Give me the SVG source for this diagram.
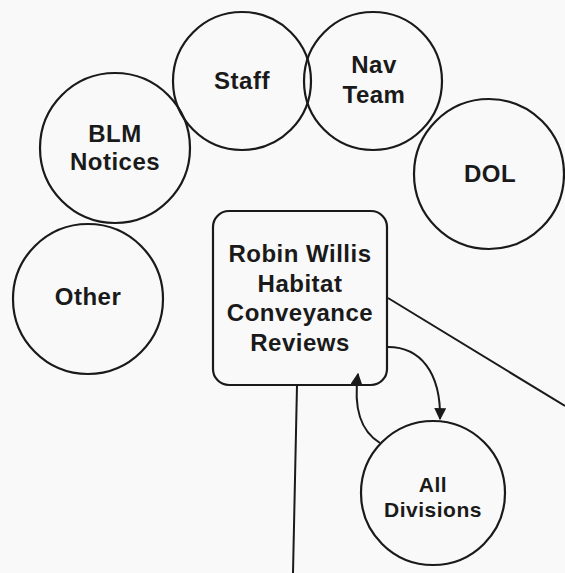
<svg xmlns="http://www.w3.org/2000/svg" width="565" height="573" viewBox="0 0 565 573">
<defs>
<style>
.n{fill:none;stroke:#1a1a1a;stroke-width:2.2}
.t{font-family:"Liberation Sans",Arial,sans-serif;font-weight:bold;font-size:24px;letter-spacing:0.5px;fill:#1a1a1a;text-anchor:middle}
.s{font-size:21px}
.c{fill:none;stroke:#1a1a1a;stroke-width:2}
</style>
<marker id="ah" viewBox="0 0 10 10" refX="9" refY="5" markerWidth="12" markerHeight="12" markerUnits="userSpaceOnUse" orient="auto">
<path d="M0,0 L10,5 L0,10 z" fill="#1a1a1a"/>
</marker>
</defs>
<rect width="565" height="573" fill="#f9f9f9"/>
<g id="connectors">
<line class="c" x1="388" y1="298" x2="565" y2="406"/>
<path class="c" d="M388,347 C420,347 441,372 440,419" marker-end="url(#ah)"/>
<path class="c" d="M380,443 C362,432 353,410 358,374" marker-end="url(#ah)"/>
<line class="c" x1="297" y1="385" x2="293" y2="573"/>
</g>
<g id="staff"><circle class="n" cx="242" cy="81" r="69"/><text class="t" x="242" y="89">Staff</text></g>
<g id="navteam"><circle class="n" cx="373" cy="81" r="69"/><text class="t" x="374" y="73">Nav</text><text class="t" x="374" y="103">Team</text></g>
<g id="blm"><circle class="n" cx="115" cy="148" r="75"/><text class="t" x="115" y="142">BLM</text><text class="t" x="115" y="170">Notices</text></g>
<g id="dol"><circle class="n" cx="489" cy="174" r="75"/><text class="t" x="490" y="182">DOL</text></g>
<g id="other"><circle class="n" cx="88" cy="299" r="75"/><text class="t" x="88" y="305">Other</text></g>
<g id="robin"><rect class="n" x="213" y="211" width="174" height="174" rx="16"/>
<text class="t" x="300" y="262">Robin Willis</text>
<text class="t" x="300" y="292">Habitat</text>
<text class="t" x="300" y="321">Conveyance</text>
<text class="t" x="300" y="351">Reviews</text></g>
<g id="alldivisions"><circle class="n" cx="433" cy="493" r="72"/><text class="t s" x="433" y="492">All</text><text class="t s" x="433" y="517">Divisions</text></g>
</svg>
